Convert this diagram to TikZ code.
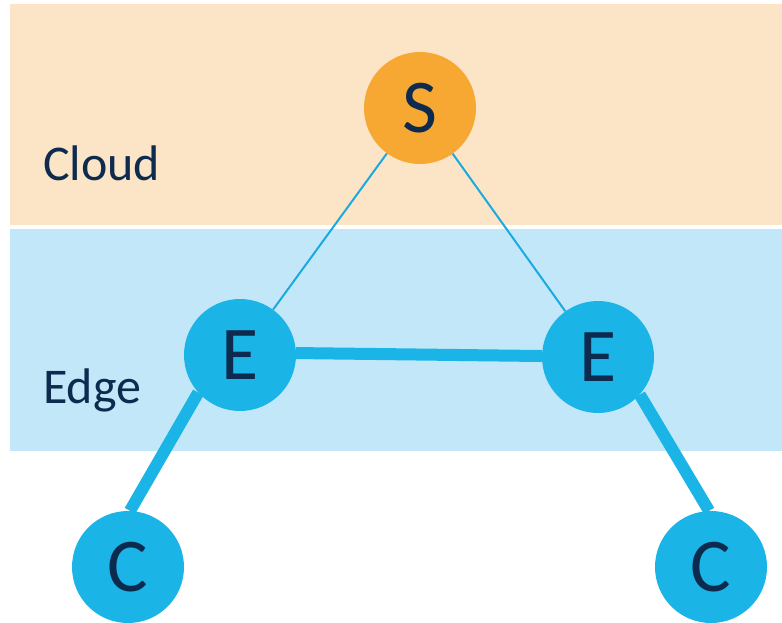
\documentclass[tikz,border=0pt]{standalone}
\usepackage{fontspec}
\setmainfont{Carlito}
\definecolor{cloudbg}{HTML}{FCE4C6}
\definecolor{edgebg}{HTML}{C2E7F8}
\definecolor{serverfill}{HTML}{F7A833}
\definecolor{nodefill}{HTML}{1AB4E6}
\definecolor{linkcol}{HTML}{1AAADF}
\definecolor{ink}{HTML}{0D2B4F}
\begin{document}
\begin{tikzpicture}[x=1pt,y=-1pt,
  vertex/.style={circle,minimum size=112pt,inner sep=0pt,text=ink,font=\fontsize{76}{76}\selectfont},
  server/.style={vertex,fill=serverfill},
  device/.style={vertex,fill=nodefill},
  layer/.style={anchor=base west,inner sep=0pt,text=ink,font=\fontsize{50}{50}\selectfont},
  thinlink/.style={draw=linkcol,line width=2pt},
  thicklink/.style={draw=nodefill,line width=12pt}]
\useasboundingbox (0,0) rectangle (782,623);
\fill[white] (0,0) rectangle (782,623);
% layer bands
\fill[cloudbg] (10,4) rectangle (782,225);
\fill[edgebg] (10,229) rectangle (782,451);
\node[layer] (cloudlbl) at (43,180) {Cloud};
\node[layer] (edgelbl) at (43,403) {Edge};
% nodes
\node[server] (s) at (420,108) {S};
\node[device] (e1) at (240,355) {E};
\node[device] (e2) at (598,357) {E};
\node[device] (c1) at (128,567) {C};
\node[device] (c2) at (711,567) {C};
% links
\draw[thinlink] (s) -- (e1);
\draw[thinlink] (s) -- (e2);
\draw[thicklink] (e1.2) -- (e2.179);
\draw[thicklink] (e1.222) -- (c1.88);
\draw[thicklink] (e2.318) -- (c2.92);
\end{tikzpicture}
\end{document}
